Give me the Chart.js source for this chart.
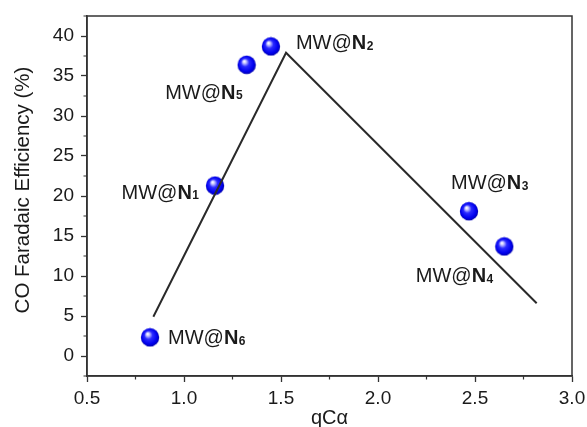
<!DOCTYPE html>
<html>
<head>
<meta charset="utf-8">
<script src="https://cdn.jsdelivr.net/npm/chart.js@4/dist/chart.umd.min.js"></script>
<style>
html,body{margin:0;padding:0;background:#fff;}
canvas{display:block;}
</style>
</head>
<body>
<canvas id="c" width="587" height="427"></canvas>
<script>
// ---- data ----
const sampleNames = ['1', '2', '3', '4', '5', '6'];
const qCalpha = [1.16, 1.448, 2.469, 2.651, 1.323, 0.825];
const coFE = [21.3, 38.7, 18.1, 13.7, 36.4, 2.33];
const trendX = [0.842, 1.526, 2.818];
const trendY = [4.9, 37.9, 6.6];
const xTicks = [0.5, 1.0, 1.5, 2.0, 2.5, 3.0];
const yTicks = [0, 5, 10, 15, 20, 25, 30, 35, 40];
const xMinor = [0.75, 1.25, 1.75, 2.25, 2.75];
const yMinor = [-2.5, 2.5, 7.5, 12.5, 17.5, 22.5, 27.5, 32.5, 37.5, 42.5];
const yTitle = 'CO Faradaic Efficiency (%)';
const xTitle = 'qCα';

// label placement (pixels relative to point centre): [dx, dy, align]
const labelPlace = {
  '1': [-16, 6, 'right'],
  '2': [25, -4, 'left'],
  '3': [-18, -29, 'left'],
  '4': [-11, 29, 'right'],
  '5': [-4, 27, 'right'],
  '6': [18, 0, 'left']
};

// sphere marker
function makeSphere() {
  const s = document.createElement('canvas');
  s.width = 20; s.height = 20;
  const g = s.getContext('2d');
  const grad = g.createRadialGradient(7.5, 6.5, 0.5, 10, 10, 10);
  grad.addColorStop(0, '#ffffff');
  grad.addColorStop(0.15, '#b8b8ff');
  grad.addColorStop(0.38, '#2a2aff');
  grad.addColorStop(0.75, '#0000ee');
  grad.addColorStop(1, '#00009a');
  g.fillStyle = grad;
  g.beginPath();
  g.arc(10, 10, 9.2, 0, Math.PI * 2);
  g.fill();
  return s;
}
const sphere = makeSphere();
const FAM = '"Liberation Sans", Arial, sans-serif';

const boxPlugin = {
  id: 'boxAndLabels',
  afterDraw(chart) {
    const ctx = chart.ctx;
    const a = chart.chartArea;
    const xs = chart.scales.x, ys = chart.scales.y;
    ctx.save();
    ctx.strokeStyle = '#333';
    ctx.lineWidth = 1.5;
    ctx.strokeRect(a.left, a.top, a.right - a.left, a.bottom - a.top);
    // minor ticks
    ctx.lineWidth = 1.2;
    ctx.beginPath();
    xMinor.forEach(v => {
      const px = xs.getPixelForValue(v);
      ctx.moveTo(px, a.bottom); ctx.lineTo(px, a.bottom + 3.5);
    });
    yMinor.forEach(v => {
      const py = ys.getPixelForValue(v);
      ctx.moveTo(a.left, py); ctx.lineTo(a.left - 3.5, py);
    });
    ctx.stroke();
    // y axis title
    ctx.translate(23, 190);
    ctx.rotate(-Math.PI / 2);
    ctx.fillStyle = '#1a1a1a';
    ctx.font = '20.5px ' + FAM;
    ctx.textAlign = 'center';
    ctx.textBaseline = 'middle';
    ctx.fillText(yTitle, 0, 0);
    ctx.restore();
  },
  afterDatasetsDraw(chart) {
    const ctx = chart.ctx;
    const meta = chart.getDatasetMeta(1);
    ctx.save();
    ctx.fillStyle = '#1a1a1a';
    ctx.textBaseline = 'alphabetic';
    const fReg = '20px ' + FAM;
    const fBold = 'bold 20px ' + FAM;
    const fSub = 'bold 12px ' + FAM;
    meta.data.forEach((pt, i) => {
      const name = sampleNames[i];
      const [dx, dy, align] = labelPlace[name];
      ctx.font = fReg; const w1 = ctx.measureText('MW@').width;
      ctx.font = fBold; const w2 = ctx.measureText('N').width;
      ctx.font = fSub; const w3 = ctx.measureText(name).width;
      const total = w1 + w2 + w3 + 0.5;
      let x0 = pt.x + dx;
      if (align === 'right') x0 -= total;
      const base = pt.y + dy + 7;
      ctx.textAlign = 'left';
      ctx.font = fReg; ctx.fillText('MW@', x0, base);
      ctx.font = fBold; ctx.fillText('N', x0 + w1, base);
      ctx.font = fSub; ctx.fillText(name, x0 + w1 + w2 + 0.5, base + 0.5);
    });
    ctx.restore();
  }
};

new Chart(document.getElementById('c'), {
  type: 'scatter',
  data: {
    datasets: [
      {
        type: 'line',
        data: trendX.map((x, i) => ({x, y: trendY[i]})),
        borderColor: '#2a2a2a',
        borderWidth: 2,
        pointRadius: 0,
        fill: false,
        tension: 0
      },
      {
        data: qCalpha.map((x, i) => ({x, y: coFE[i]})),
        pointStyle: sphere,
        pointRadius: 9
      }
    ]
  },
  options: {
    responsive: false,
    animation: false,
    devicePixelRatio: 1,
    layout: {padding: {top: 16, right: 15, left: 0, bottom: 0}},
    plugins: {legend: {display: false}, tooltip: {enabled: false}},
    scales: {
      x: {
        type: 'linear',
        min: 0.5, max: 3.0,
        afterBuildTicks: s => { s.ticks = xTicks.map(v => ({value: v})); },
        afterFit: s => { s.height = 51; s.paddingLeft = 0; s.paddingRight = 0; },
        grid: {drawOnChartArea: false, drawTicks: true, tickLength: 6, tickColor: '#333', tickWidth: 1.3},
        border: {display: true, color: '#333', width: 1.5},
        ticks: {
          padding: 5,
          color: '#1a1a1a',
          font: {family: FAM, size: 19},
          callback: v => v.toFixed(1)
        },
        title: {
          display: true,
          text: xTitle,
          color: '#1a1a1a',
          font: {family: FAM, size: 20},
          padding: {top: 0, bottom: -3}
        }
      },
      y: {
        type: 'linear',
        min: -2.5, max: 42.5,
        afterBuildTicks: s => { s.ticks = yTicks.map(v => ({value: v})); },
        afterFit: s => { s.width = 87; s.paddingTop = 0; s.paddingBottom = 0; },
        grid: {drawOnChartArea: false, drawTicks: true, tickLength: 6, tickColor: '#333', tickWidth: 1.3},
        border: {display: true, color: '#333', width: 1.5},
        ticks: {
          padding: 7,
          color: '#1a1a1a',
          font: {family: FAM, size: 19},
          callback: v => String(v)
        },
        title: {display: false}
      }
    }
  },
  plugins: [boxPlugin]
});
</script>
</body>
</html>
